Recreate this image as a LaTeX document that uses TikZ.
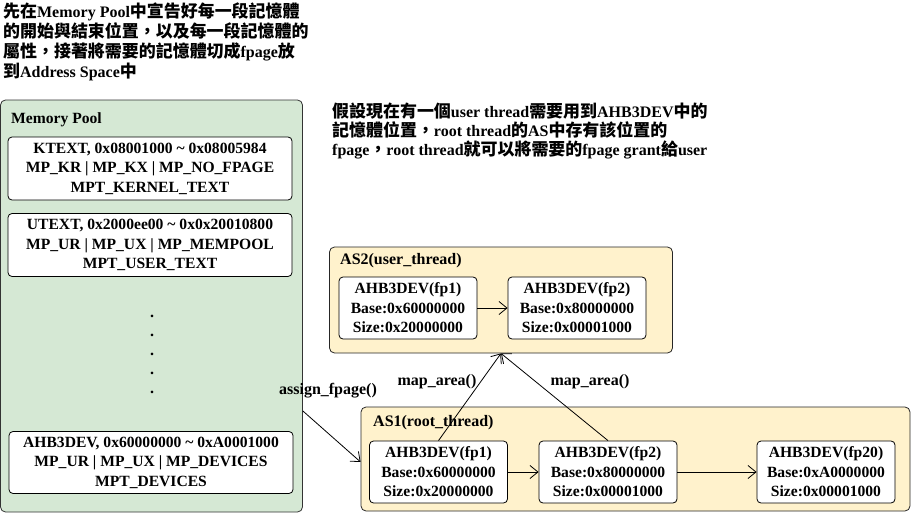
\documentclass[tikz,border=0pt]{standalone}
\usepackage{fontspec}
\setmainfont{Liberation Serif}
\newfontfamily\cjk{Noto Sans CJK TC}[Scale=1.06]
\usetikzlibrary{arrows.meta}
\definecolor{poolgreen}{HTML}{D5E8D4}
\definecolor{asyellow}{HTML}{FFF2CC}
\begin{document}
\begin{tikzpicture}[x=1pt,y=-1pt,font=\bfseries\fontsize{16}{19.5}\selectfont]
    \tikzstyle{pool}=[draw=black!80,fill=poolgreen,rounded corners=5pt,line width=0.8pt,inner sep=0pt]
    \tikzstyle{space}=[draw=black!85,fill=asyellow,rounded corners=5pt,line width=0.8pt,inner sep=0pt]
    \tikzstyle{region}=[draw=black,fill=white,rounded corners=4pt,line width=0.8pt,inner sep=0pt,align=center,minimum width=284pt,minimum height=63pt,font=\bfseries\fontsize{15.6}{19.5}\selectfont]
    \tikzstyle{fpage}=[draw=black,fill=white,rounded corners=4pt,line width=0.8pt,inner sep=0pt,align=center,minimum width=138pt,minimum height=62pt,font=\bfseries\fontsize{15.6}{19.5}\selectfont]
    \tikzstyle{link}=[-{Straight Barb[length=8pt,width=13pt]},line width=0.8pt]
    \useasboundingbox (0,0) rectangle (911,514);
    \node (intro)[anchor=north west,align=left,inner sep=0pt,font=\bfseries\fontsize{16}{20}\selectfont] at (3,3)
        {{\cjk 先在}Memory Pool{\cjk 中宣告好每一段記憶體}\\
         {\cjk 的開始與結束位置，以及每一段記憶體的}\\
         {\cjk 屬性，接著將需要的記憶體切成}fpage{\cjk 放}\\
         {\cjk 到}Address Space{\cjk 中}};
    \node (pool)[pool,minimum width=302pt,minimum height=412pt] at (151.5,306) {};
    \node (pooltitle)[anchor=west,inner sep=0pt,font=\bfseries\fontsize{15.6}{19.5}\selectfont] at (11,120) {Memory Pool};
    \node (ktext)[region] at (150,168.5) {KTEXT, 0x08001000 \textasciitilde\ 0x08005984\\MP\_KR | MP\_KX | MP\_NO\_FPAGE\\MPT\_KERNEL\_TEXT};
    \node (utext)[region] at (150,245) {UTEXT, 0x2000ee00 \textasciitilde\ 0x0x20010800\\MP\_UR | MP\_UX | MP\_MEMPOOL\\MPT\_USER\_TEXT};
    \foreach \i in {0,...,4}
        \node (dot\i)[inner sep=0pt] at (152,316+19*\i) {.};
    \node (ahbdev)[region,minimum height=62pt] at (151,462.5) {AHB3DEV, 0x60000000 \textasciitilde\ 0xA0001000\\MP\_UR | MP\_UX | MP\_DEVICES\\MPT\_DEVICES};
    \node (story)[anchor=north west,align=left,inner sep=0pt,font=\bfseries\fontsize{16}{19}\selectfont] at (332,103)
        {{\cjk 假設現在有一個}user thread{\cjk 需要用到}AHB3DEV{\cjk 中的}\\
         {\cjk 記憶體位置，}root thread{\cjk 的}AS{\cjk 中存有該位置的}\\
         fpage{\cjk ，}root thread{\cjk 就可以將需要的}fpage grant{\cjk 給}user};
    \node (as2)[space,minimum width=343pt,minimum height=106pt] at (501,300) {};
    \node (as2title)[anchor=west,inner sep=0pt] at (340,261) {AS2(user\_thread)};
    \node (as2fp1)[fpage] at (408,308) {AHB3DEV(fp1)\\Base:0x60000000\\Size:0x20000000};
    \node (as2fp2)[fpage] at (577,308) {AHB3DEV(fp2)\\Base:0x80000000\\Size:0x00001000};
    \node (as1)[space,minimum width=549pt,minimum height=104pt] at (635.5,459) {};
    \node (as1title)[anchor=west,inner sep=0pt] at (373,423) {AS1(root\_thread)};
    \node (as1fp1)[fpage] at (438.5,472) {AHB3DEV(fp1)\\Base:0x60000000\\Size:0x20000000};
    \node (as1fp2)[fpage] at (608,472) {AHB3DEV(fp2)\\Base:0x80000000\\Size:0x00001000};
    \node (as1fp20)[fpage] at (826,472) {AHB3DEV(fp20)\\Base:0xA0000000\\Size:0x00001000};
    \draw [link] (as2fp1.east) -- (as2fp2.west);
    \draw [link] (as1fp1.east) -- (as1fp2.west);
    \draw [link] (as1fp2.east) -- (as1fp20.west);
    \draw [link] (as1fp1.north) -- (as2.south);
    \draw [link] (as1fp2.north) -- (as2.south);
    \draw [link] ([yshift=-105pt]pool.east) -- ([yshift=-3pt]as1.west);
    \node (assign) at (328,391) {assign\_fpage()};
    \node (mapleft) at (437,382) {map\_area()};
    \node (mapright) at (590,382) {map\_area()};
\end{tikzpicture}
\end{document}
